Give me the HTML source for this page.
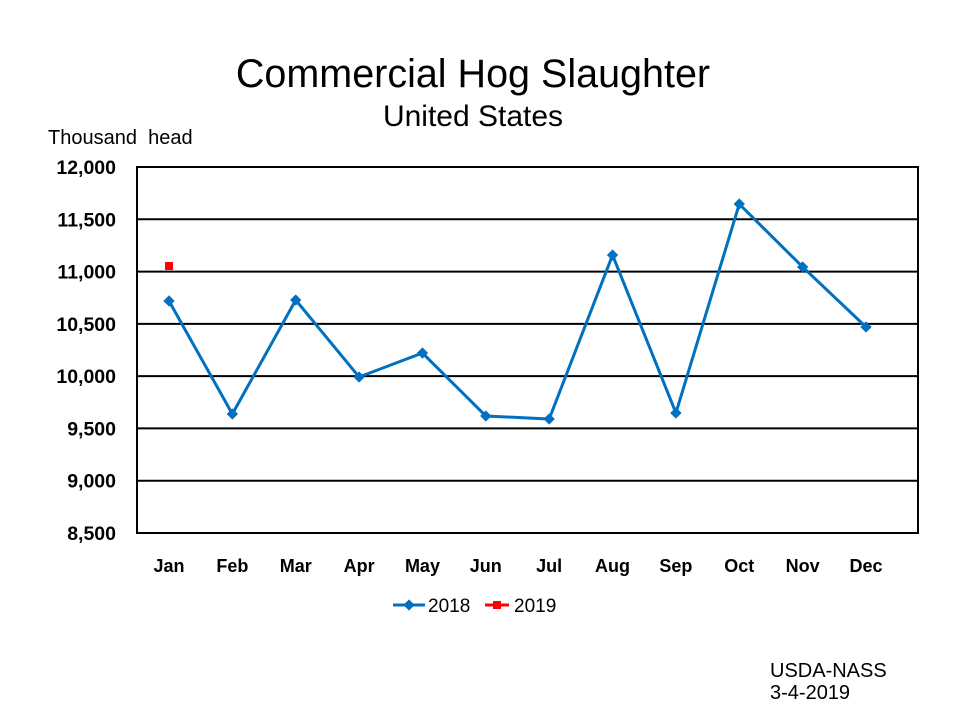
<!DOCTYPE html>
<html><head><meta charset="utf-8"><style>
body{margin:0;background:#fff;}
svg text{font-family:"Liberation Sans",Arial,sans-serif;fill:#000;}
</style></head><body>
<svg id="chart" width="960" height="720" xmlns="http://www.w3.org/2000/svg">
<text x="473" y="87" font-size="39.5" text-anchor="middle">Commercial Hog Slaughter</text>
<text x="473" y="126" font-size="30" text-anchor="middle">United States</text>
<text x="48" y="144" font-size="20" xml:space="preserve">Thousand  head</text>
<g id="grid"></g>
<g id="series"></g>
<g>
<line x1="393" y1="605" x2="425" y2="605" stroke="#0070c0" stroke-width="3"/>
<rect x="405" y="601" width="8" height="8" fill="#0070c0" transform="rotate(45 409 605)"/>
<text x="428" y="612" font-size="19">2018</text>
<line x1="485" y1="605" x2="509" y2="605" stroke="#ff0000" stroke-width="3"/>
<rect x="493" y="601" width="8" height="8" fill="#ff0000"/>
<text x="514" y="612" font-size="19">2019</text>
</g>
<text x="770" y="677" font-size="20">USDA-NASS</text>
<text x="770" y="699" font-size="20">3-4-2019</text>
</svg>
<script>
const categories=["Jan","Feb","Mar","Apr","May","Jun","Jul","Aug","Sep","Oct","Nov","Dec"];
const values2018=[10719,9638,10728,9992,10221,9619,9590,11158,9648,11646,11044,10470];
const values2019=[11053];
const yTicks=[8500,9000,9500,10000,10500,11000,11500,12000];
const tickLabels=["8,500","9,000","9,500","10,000","10,500","11,000","11,500","12,000"];
const L=137,R=918,T=167,B=533,yMin=8500,yMax=12000;
const X0=169,X1=866;
const NS="http://www.w3.org/2000/svg";
function y(v){return B-(v-yMin)/(yMax-yMin)*(B-T);}
function x(i){return X0+(X1-X0)/(categories.length-1)*i;}
function mk(tag,attrs,parent){const e=document.createElementNS(NS,tag);for(const k in attrs)e.setAttribute(k,attrs[k]);parent.appendChild(e);return e;}
const grid=document.getElementById('grid'),ser=document.getElementById('series');
yTicks.forEach((t,i)=>{
  const ln=mk('line',{x1:L,x2:R,y1:y(t),y2:y(t),stroke:'#000','stroke-width':2},grid);
  
  
  const tx=mk('text',{x:116,y:y(t)+7,'font-size':19.5,'font-weight':'bold','text-anchor':'end'},grid);
  tx.textContent=tickLabels[i];
  
  
});
const frame=mk('rect',{x:L,y:T,width:R-L,height:B-T,fill:'none',stroke:'#000','stroke-width':2},grid);


categories.forEach((c,i)=>{
  const tx=mk('text',{x:x(i),y:572,'font-size':18,'font-weight':'bold','text-anchor':'middle'},grid);
  tx.textContent=c;
  
  
});
const pl=mk('polyline',{points:values2018.map((v,i)=>x(i)+','+y(v)).join(' '),fill:'none',stroke:'#0070c0','stroke-width':3},ser);


values2018.forEach((v,i)=>{
  const r=mk('rect',{x:x(i)-4,y:y(v)-4,width:8,height:8,fill:'#0070c0',transform:`rotate(45 ${x(i)} ${y(v)})`},ser);
  
  
});
values2019.forEach((v,i)=>{
  const r=mk('rect',{x:x(i)-4,y:y(v)-4,width:8,height:8,fill:'#ff0000'},ser);
  
  
});
</script>
</body></html>
